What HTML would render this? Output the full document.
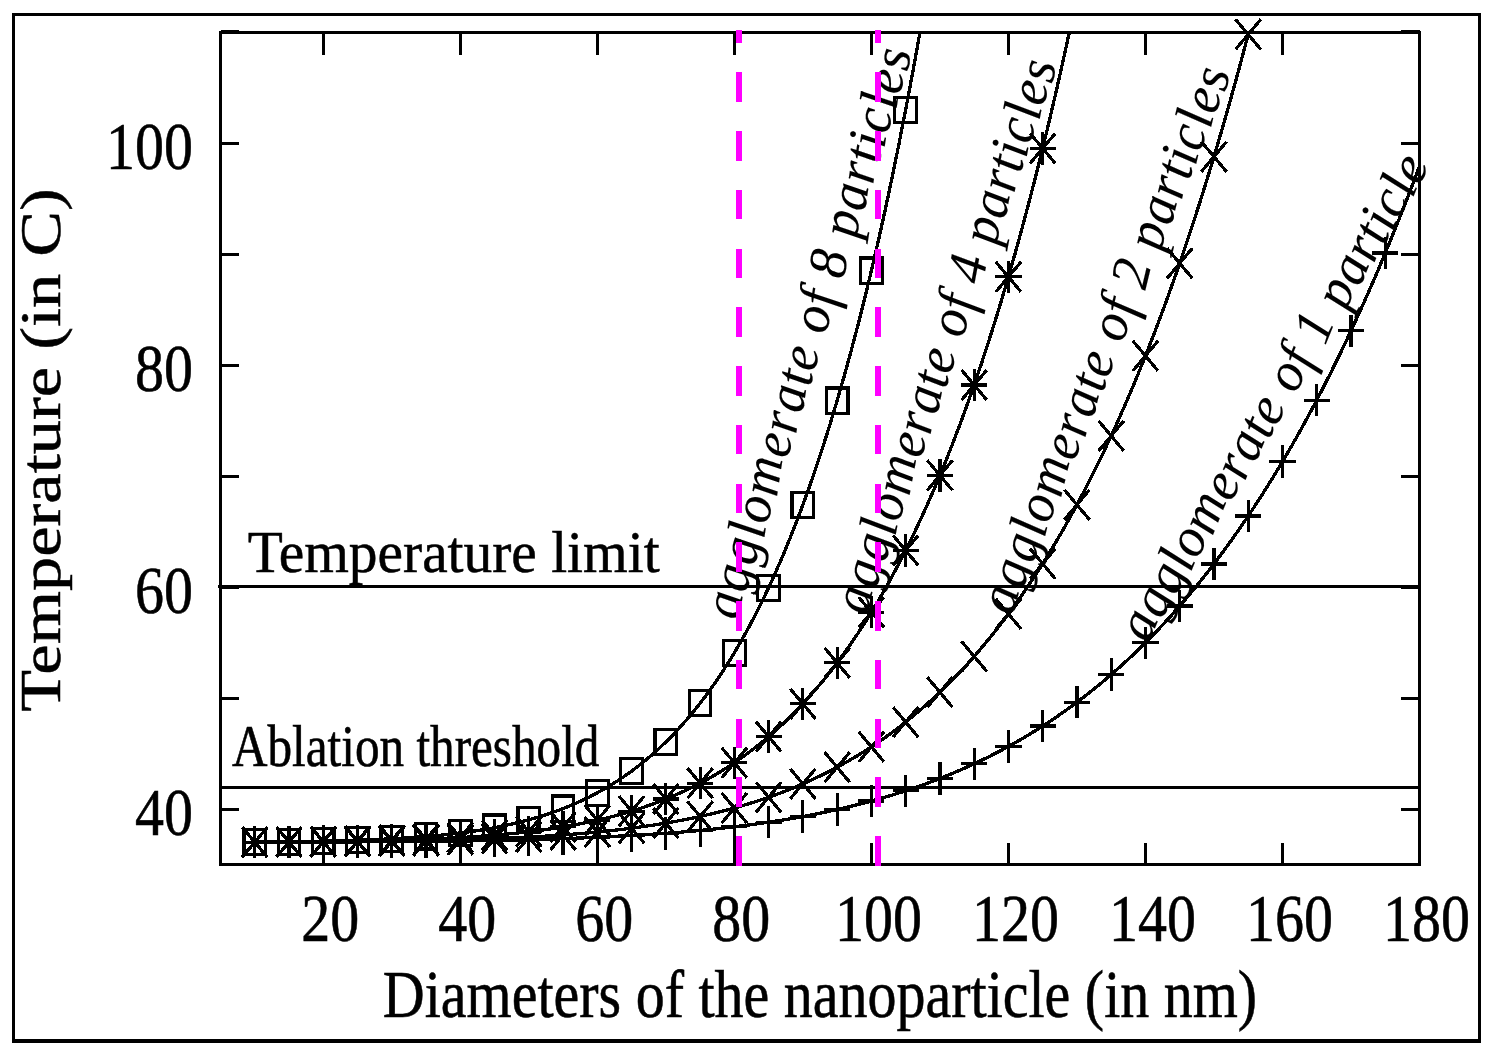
<!DOCTYPE html><html><head><meta charset="utf-8"><title>chart</title><style>html,body{margin:0;padding:0;background:#fff}svg{display:block}path{shape-rendering:crispEdges}text{font-family:"Liberation Serif",serif;fill:#000}</style></head><body>
<svg width="1493" height="1056" viewBox="0 0 1493 1056">
<rect width="1493" height="1056" fill="#fff"/>
<path d="M12 13H1481V1043H12Z M15 16V1039H1478V16Z" fill="#000" fill-rule="evenodd"/>
<defs><clipPath id="c"><rect x="220.5" y="32.5" width="1199.0" height="832.0"/></clipPath></defs>
<path d="M323.27 864.5 v-22 M323.27 32.5 v22 M460.30 864.5 v-22 M460.30 32.5 v22 M597.33 864.5 v-22 M597.33 32.5 v22 M734.36 864.5 v-22 M734.36 32.5 v22 M871.39 864.5 v-22 M871.39 32.5 v22 M1008.41 864.5 v-22 M1008.41 32.5 v22 M1145.44 864.5 v-22 M1145.44 32.5 v22 M1282.47 864.5 v-22 M1282.47 32.5 v22 M1419.50 864.5 v-22 M1419.50 32.5 v22 M220.5 809.50 h18.5 M1419.5 809.50 h-19 M220.5 698.42 h18.5 M1419.5 698.42 h-19 M220.5 587.34 h18.5 M1419.5 587.34 h-19 M220.5 476.26 h18.5 M1419.5 476.26 h-19 M220.5 365.18 h18.5 M1419.5 365.18 h-19 M220.5 254.10 h18.5 M1419.5 254.10 h-19 M220.5 143.02 h18.5 M1419.5 143.02 h-19 M220.5 31.94 h18.5 M1419.5 31.94 h-19" stroke="#000" stroke-width="3" fill="none"/>
<path d="M218 586.5 H1419.5 M220.5 787.5 H1419.5" stroke="#000" stroke-width="3" fill="none"/>
<path clip-path="url(#c)" d="M254.76 842.25 L261.61 842.23 L268.46 842.22 L275.31 842.20 L282.16 842.19 L289.01 842.17 L295.87 842.14 L302.72 842.12 L309.57 842.10 L316.42 842.07 L323.27 842.04 L330.12 842.02 L336.97 841.98 L343.83 841.95 L350.68 841.91 L357.53 841.88 L364.38 841.84 L371.23 841.79 L378.08 841.75 L384.93 841.70 L391.79 841.65 L398.64 841.60 L405.49 841.54 L412.34 841.48 L419.19 841.41 L426.04 841.34 L432.89 841.27 L439.75 841.19 L446.60 841.11 L453.45 841.02 L460.30 840.93 L467.15 840.83 L474.00 840.72 L480.85 840.61 L487.71 840.49 L494.56 840.37 L501.41 840.23 L508.26 840.09 L515.11 839.94 L521.96 839.78 L528.81 839.62 L535.67 839.44 L542.52 839.25 L549.37 839.05 L556.22 838.84 L563.07 838.61 L569.92 838.38 L576.77 838.13 L583.63 837.86 L590.48 837.58 L597.33 837.29 L604.18 836.98 L611.03 836.65 L617.88 836.30 L624.73 835.94 L631.59 835.55 L638.44 835.15 L645.29 834.72 L652.14 834.27 L658.99 833.80 L665.84 833.31 L672.69 832.78 L679.55 832.24 L686.40 831.66 L693.25 831.06 L700.10 830.43 L706.95 829.76 L713.80 829.07 L720.65 828.34 L727.51 827.58 L734.36 826.78 L741.21 825.95 L748.06 825.07 L754.91 824.16 L761.76 823.21 L768.61 822.21 L775.47 821.17 L782.32 820.08 L789.17 818.95 L796.02 817.77 L802.87 816.54 L809.72 815.25 L816.57 813.91 L823.43 812.52 L830.28 811.07 L837.13 809.56 L843.98 807.99 L850.83 806.36 L857.68 804.66 L864.53 802.89 L871.39 801.06 L878.24 799.16 L885.09 797.18 L891.94 795.13 L898.79 793.00 L905.64 790.79 L912.49 788.50 L919.35 786.12 L926.20 783.66 L933.05 781.11 L939.90 778.47 L946.75 775.73 L953.60 772.90 L960.45 769.97 L967.31 766.94 L974.16 763.80 L981.01 760.56 L987.86 757.20 L994.71 753.74 L1001.56 750.16 L1008.41 746.46 L1015.27 742.64 L1022.12 738.69 L1028.97 734.62 L1035.82 730.42 L1042.67 726.08 L1049.52 721.61 L1056.37 716.99 L1063.23 712.24 L1070.08 707.34 L1076.93 702.28 L1083.78 697.07 L1090.63 691.71 L1097.48 686.18 L1104.33 680.50 L1111.19 674.64 L1118.04 668.61 L1124.89 662.40 L1131.74 656.02 L1138.59 649.45 L1145.44 642.70 L1152.29 635.75 L1159.15 628.61 L1166.00 621.27 L1172.85 613.72 L1179.70 605.97 L1186.55 598.00 L1193.40 589.82 L1200.25 581.41 L1207.11 572.79 L1213.96 563.93 L1220.81 554.83 L1227.66 545.50 L1234.51 535.92 L1241.36 526.09 L1248.21 516.01 L1255.07 505.67 L1261.92 495.07 L1268.77 484.20 L1275.62 473.06 L1282.47 461.63 L1289.32 449.92 L1296.17 437.92 L1303.03 425.63 L1309.88 413.04 L1316.73 400.14 L1323.58 386.93 L1330.43 373.40 L1337.28 359.56 L1344.13 345.38 L1350.99 330.87 L1357.84 316.01 L1364.69 300.82 L1371.54 285.27 L1378.39 269.36 L1385.24 253.09 L1392.09 236.45 L1398.95 219.43 L1405.80 202.03 L1412.65 184.23 L1419.50 166.05" stroke="#000" stroke-width="3.3" fill="none"/>
<path d="M241.66 842.25 h26.2 M254.76 826.05 v32.4 M275.91 842.17 h26.2 M289.01 825.97 v32.4 M310.17 842.04 h26.2 M323.27 825.84 v32.4 M344.43 841.88 h26.2 M357.53 825.68 v32.4 M378.69 841.65 h26.2 M391.79 825.45 v32.4 M412.94 841.34 h26.2 M426.04 825.14 v32.4 M447.20 840.93 h26.2 M460.30 824.73 v32.4 M481.46 840.37 h26.2 M494.56 824.17 v32.4 M515.71 839.62 h26.2 M528.81 823.42 v32.4 M549.97 838.61 h26.2 M563.07 822.41 v32.4 M584.23 837.29 h26.2 M597.33 821.09 v32.4 M618.49 835.55 h26.2 M631.59 819.35 v32.4 M652.74 833.31 h26.2 M665.84 817.11 v32.4 M687.00 830.43 h26.2 M700.10 814.23 v32.4 M721.26 826.78 h26.2 M734.36 810.58 v32.4 M755.51 822.21 h26.2 M768.61 806.01 v32.4 M789.77 816.54 h26.2 M802.87 800.34 v32.4 M824.03 809.56 h26.2 M837.13 793.36 v32.4 M858.29 801.06 h26.2 M871.39 784.86 v32.4 M892.54 790.79 h26.2 M905.64 774.59 v32.4 M926.80 778.47 h26.2 M939.90 762.27 v32.4 M961.06 763.80 h26.2 M974.16 747.60 v32.4 M995.31 746.46 h26.2 M1008.41 730.26 v32.4 M1029.57 726.08 h26.2 M1042.67 709.88 v32.4 M1063.83 702.28 h26.2 M1076.93 686.08 v32.4 M1098.09 674.64 h26.2 M1111.19 658.44 v32.4 M1132.34 642.70 h26.2 M1145.44 626.50 v32.4 M1166.60 605.97 h26.2 M1179.70 589.77 v32.4 M1200.86 563.93 h26.2 M1213.96 547.73 v32.4 M1235.11 516.01 h26.2 M1248.21 499.81 v32.4 M1269.37 461.63 h26.2 M1282.47 445.43 v32.4 M1303.63 400.14 h26.2 M1316.73 383.94 v32.4 M1337.89 330.87 h26.2 M1350.99 314.67 v32.4 M1372.14 253.09 h26.2 M1385.24 236.89 v32.4" stroke="#000" stroke-width="3.2" fill="none"/>
<path clip-path="url(#c)" d="M254.76 842.21 L261.61 842.19 L268.46 842.16 L275.31 842.14 L282.16 842.11 L289.01 842.08 L295.87 842.04 L302.72 842.01 L309.57 841.97 L316.42 841.92 L323.27 841.88 L330.12 841.83 L336.97 841.78 L343.83 841.72 L350.68 841.66 L357.53 841.59 L364.38 841.52 L371.23 841.45 L378.08 841.37 L384.93 841.28 L391.79 841.19 L398.64 841.09 L405.49 840.98 L412.34 840.87 L419.19 840.75 L426.04 840.62 L432.89 840.48 L439.75 840.33 L446.60 840.17 L453.45 840.00 L460.30 839.81 L467.15 839.62 L474.00 839.41 L480.85 839.18 L487.71 838.94 L494.56 838.69 L501.41 838.41 L508.26 838.12 L515.11 837.81 L521.96 837.47 L528.81 837.12 L535.67 836.74 L542.52 836.34 L549.37 835.91 L556.22 835.45 L563.07 834.97 L569.92 834.45 L576.77 833.91 L583.63 833.33 L590.48 832.71 L597.33 832.06 L604.18 831.37 L611.03 830.64 L617.88 829.86 L624.73 829.04 L631.59 828.18 L638.44 827.26 L645.29 826.30 L652.14 825.28 L658.99 824.21 L665.84 823.07 L672.69 821.88 L679.55 820.63 L686.40 819.31 L693.25 817.92 L700.10 816.46 L706.95 814.92 L713.80 813.31 L720.65 811.62 L727.51 809.84 L734.36 807.98 L741.21 806.03 L748.06 803.98 L754.91 801.84 L761.76 799.60 L768.61 797.25 L775.47 794.80 L782.32 792.24 L789.17 789.56 L796.02 786.76 L802.87 783.84 L809.72 780.79 L816.57 777.61 L823.43 774.29 L830.28 770.83 L837.13 767.23 L843.98 763.47 L850.83 759.56 L857.68 755.49 L864.53 751.26 L871.39 746.85 L878.24 742.27 L885.09 737.51 L891.94 732.56 L898.79 727.42 L905.64 722.08 L912.49 716.54 L919.35 710.79 L926.20 704.82 L933.05 698.63 L939.90 692.21 L946.75 685.56 L953.60 678.66 L960.45 671.52 L967.31 664.12 L974.16 656.45 L981.01 648.52 L987.86 640.31 L994.71 631.82 L1001.56 623.03 L1008.41 613.95 L1015.27 604.55 L1022.12 594.84 L1028.97 584.81 L1035.82 574.44 L1042.67 563.73 L1049.52 552.67 L1056.37 541.26 L1063.23 529.47 L1070.08 517.31 L1076.93 504.76 L1083.78 491.82 L1090.63 478.47 L1097.48 464.71 L1104.33 450.52 L1111.19 435.89 L1118.04 420.82 L1124.89 405.29 L1131.74 389.29 L1138.59 372.82 L1145.44 355.85 L1152.29 338.39 L1159.15 320.41 L1166.00 301.91 L1172.85 282.87 L1179.70 263.28 L1186.55 243.13 L1193.40 222.41 L1200.25 201.11 L1207.11 179.20 L1213.96 156.68 L1220.81 133.53 L1227.66 109.75 L1234.51 85.31 L1241.36 60.21 L1248.21 34.42 L1255.07 7.93 L1261.92 -19.26 L1268.77 -47.18 L1275.62 -75.85 L1282.47 -105.27 L1289.32 -135.46 L1296.17 -166.45 L1303.03 -198.24" stroke="#000" stroke-width="3.3" fill="none"/>
<path d="M242.16 827.21 l25.2 30.0 M242.16 857.21 l25.2 -30.0 M276.41 827.08 l25.2 30.0 M276.41 857.08 l25.2 -30.0 M310.67 826.88 l25.2 30.0 M310.67 856.88 l25.2 -30.0 M344.93 826.59 l25.2 30.0 M344.93 856.59 l25.2 -30.0 M379.19 826.19 l25.2 30.0 M379.19 856.19 l25.2 -30.0 M413.44 825.62 l25.2 30.0 M413.44 855.62 l25.2 -30.0 M447.70 824.81 l25.2 30.0 M447.70 854.81 l25.2 -30.0 M481.96 823.69 l25.2 30.0 M481.96 853.69 l25.2 -30.0 M516.21 822.12 l25.2 30.0 M516.21 852.12 l25.2 -30.0 M550.47 819.97 l25.2 30.0 M550.47 849.97 l25.2 -30.0 M584.73 817.06 l25.2 30.0 M584.73 847.06 l25.2 -30.0 M618.99 813.18 l25.2 30.0 M618.99 843.18 l25.2 -30.0 M653.24 808.07 l25.2 30.0 M653.24 838.07 l25.2 -30.0 M687.50 801.46 l25.2 30.0 M687.50 831.46 l25.2 -30.0 M721.76 792.98 l25.2 30.0 M721.76 822.98 l25.2 -30.0 M756.01 782.25 l25.2 30.0 M756.01 812.25 l25.2 -30.0 M790.27 768.84 l25.2 30.0 M790.27 798.84 l25.2 -30.0 M824.53 752.23 l25.2 30.0 M824.53 782.23 l25.2 -30.0 M858.79 731.85 l25.2 30.0 M858.79 761.85 l25.2 -30.0 M893.04 707.08 l25.2 30.0 M893.04 737.08 l25.2 -30.0 M927.30 677.21 l25.2 30.0 M927.30 707.21 l25.2 -30.0 M961.56 641.45 l25.2 30.0 M961.56 671.45 l25.2 -30.0 M995.81 598.95 l25.2 30.0 M995.81 628.95 l25.2 -30.0 M1030.07 548.73 l25.2 30.0 M1030.07 578.73 l25.2 -30.0 M1064.33 489.76 l25.2 30.0 M1064.33 519.76 l25.2 -30.0 M1098.59 420.89 l25.2 30.0 M1098.59 450.89 l25.2 -30.0 M1132.84 340.85 l25.2 30.0 M1132.84 370.85 l25.2 -30.0 M1167.10 248.28 l25.2 30.0 M1167.10 278.28 l25.2 -30.0 M1201.36 141.68 l25.2 30.0 M1201.36 171.68 l25.2 -30.0 M1235.61 19.42 l25.2 30.0 M1235.61 49.42 l25.2 -30.0" stroke="#000" stroke-width="3.2" fill="none"/>
<path clip-path="url(#c)" d="M254.76 842.15 L261.61 842.11 L268.46 842.07 L275.31 842.03 L282.16 841.98 L289.01 841.93 L295.87 841.88 L302.72 841.82 L309.57 841.75 L316.42 841.68 L323.27 841.60 L330.12 841.51 L336.97 841.42 L343.83 841.32 L350.68 841.21 L357.53 841.10 L364.38 840.97 L371.23 840.83 L378.08 840.68 L384.93 840.52 L391.79 840.35 L398.64 840.16 L405.49 839.95 L412.34 839.73 L419.19 839.49 L426.04 839.23 L432.89 838.95 L439.75 838.65 L446.60 838.32 L453.45 837.96 L460.30 837.58 L467.15 837.17 L474.00 836.73 L480.85 836.25 L487.71 835.73 L494.56 835.18 L501.41 834.58 L508.26 833.94 L515.11 833.25 L521.96 832.52 L528.81 831.73 L535.67 830.88 L542.52 829.98 L549.37 829.01 L556.22 827.98 L563.07 826.88 L569.92 825.70 L576.77 824.45 L583.63 823.12 L590.48 821.70 L597.33 820.18 L604.18 818.58 L611.03 816.88 L617.88 815.07 L624.73 813.15 L631.59 811.12 L638.44 808.96 L645.29 806.69 L652.14 804.28 L658.99 801.73 L665.84 799.04 L672.69 796.20 L679.55 793.20 L686.40 790.04 L693.25 786.71 L700.10 783.21 L706.95 779.51 L713.80 775.63 L720.65 771.55 L727.51 767.26 L734.36 762.75 L741.21 758.02 L748.06 753.05 L754.91 747.84 L761.76 742.38 L768.61 736.66 L775.47 730.67 L782.32 724.40 L789.17 717.84 L796.02 710.97 L802.87 703.79 L809.72 696.29 L816.57 688.46 L823.43 680.28 L830.28 671.74 L837.13 662.82 L843.98 653.53 L850.83 643.84 L857.68 633.74 L864.53 623.22 L871.39 612.26 L878.24 600.85 L885.09 588.98 L891.94 576.62 L898.79 563.77 L905.64 550.41 L912.49 536.52 L919.35 522.09 L926.20 507.09 L933.05 491.53 L939.90 475.36 L946.75 458.58 L953.60 441.18 L960.45 423.12 L967.31 404.39 L974.16 384.98 L981.01 364.86 L987.86 344.01 L994.71 322.40 L1001.56 300.03 L1008.41 276.87 L1015.27 252.88 L1022.12 228.06 L1028.97 202.38 L1035.82 175.82 L1042.67 148.34 L1049.52 119.93 L1056.37 90.55 L1063.23 60.19 L1070.08 28.82 L1076.93 -3.59 L1083.78 -37.07 L1090.63 -71.65 L1097.48 -107.35 L1104.33 -144.20 L1111.19 -182.24 L1118.04 -221.50" stroke="#000" stroke-width="3.3" fill="none"/>
<path d="M241.66 842.15 h26.2 M254.76 825.95 v32.4 M242.16 827.15 l25.2 30.0 M242.16 857.15 l25.2 -30.0 M275.91 841.93 h26.2 M289.01 825.73 v32.4 M276.41 826.93 l25.2 30.0 M276.41 856.93 l25.2 -30.0 M310.17 841.60 h26.2 M323.27 825.40 v32.4 M310.67 826.60 l25.2 30.0 M310.67 856.60 l25.2 -30.0 M344.43 841.10 h26.2 M357.53 824.90 v32.4 M344.93 826.10 l25.2 30.0 M344.93 856.10 l25.2 -30.0 M378.69 840.35 h26.2 M391.79 824.15 v32.4 M379.19 825.35 l25.2 30.0 M379.19 855.35 l25.2 -30.0 M412.94 839.23 h26.2 M426.04 823.03 v32.4 M413.44 824.23 l25.2 30.0 M413.44 854.23 l25.2 -30.0 M447.20 837.58 h26.2 M460.30 821.38 v32.4 M447.70 822.58 l25.2 30.0 M447.70 852.58 l25.2 -30.0 M481.46 835.18 h26.2 M494.56 818.98 v32.4 M481.96 820.18 l25.2 30.0 M481.96 850.18 l25.2 -30.0 M515.71 831.73 h26.2 M528.81 815.53 v32.4 M516.21 816.73 l25.2 30.0 M516.21 846.73 l25.2 -30.0 M549.97 826.88 h26.2 M563.07 810.68 v32.4 M550.47 811.88 l25.2 30.0 M550.47 841.88 l25.2 -30.0 M584.23 820.18 h26.2 M597.33 803.98 v32.4 M584.73 805.18 l25.2 30.0 M584.73 835.18 l25.2 -30.0 M618.49 811.12 h26.2 M631.59 794.92 v32.4 M618.99 796.12 l25.2 30.0 M618.99 826.12 l25.2 -30.0 M652.74 799.04 h26.2 M665.84 782.84 v32.4 M653.24 784.04 l25.2 30.0 M653.24 814.04 l25.2 -30.0 M687.00 783.21 h26.2 M700.10 767.01 v32.4 M687.50 768.21 l25.2 30.0 M687.50 798.21 l25.2 -30.0 M721.26 762.75 h26.2 M734.36 746.55 v32.4 M721.76 747.75 l25.2 30.0 M721.76 777.75 l25.2 -30.0 M755.51 736.66 h26.2 M768.61 720.46 v32.4 M756.01 721.66 l25.2 30.0 M756.01 751.66 l25.2 -30.0 M789.77 703.79 h26.2 M802.87 687.59 v32.4 M790.27 688.79 l25.2 30.0 M790.27 718.79 l25.2 -30.0 M824.03 662.82 h26.2 M837.13 646.62 v32.4 M824.53 647.82 l25.2 30.0 M824.53 677.82 l25.2 -30.0 M858.29 612.26 h26.2 M871.39 596.06 v32.4 M858.79 597.26 l25.2 30.0 M858.79 627.26 l25.2 -30.0 M892.54 550.41 h26.2 M905.64 534.21 v32.4 M893.04 535.41 l25.2 30.0 M893.04 565.41 l25.2 -30.0 M926.80 475.36 h26.2 M939.90 459.16 v32.4 M927.30 460.36 l25.2 30.0 M927.30 490.36 l25.2 -30.0 M961.06 384.98 h26.2 M974.16 368.78 v32.4 M961.56 369.98 l25.2 30.0 M961.56 399.98 l25.2 -30.0 M995.31 276.87 h26.2 M1008.41 260.67 v32.4 M995.81 261.87 l25.2 30.0 M995.81 291.87 l25.2 -30.0 M1029.57 148.34 h26.2 M1042.67 132.14 v32.4 M1030.07 133.34 l25.2 30.0 M1030.07 163.34 l25.2 -30.0" stroke="#000" stroke-width="3.2" fill="none"/>
<path clip-path="url(#c)" d="M254.76 842.05 L261.61 841.99 L268.46 841.93 L275.31 841.86 L282.16 841.78 L289.01 841.70 L295.87 841.60 L302.72 841.50 L309.57 841.38 L316.42 841.26 L323.27 841.12 L330.12 840.97 L336.97 840.80 L343.83 840.62 L350.68 840.42 L357.53 840.21 L364.38 839.97 L371.23 839.70 L378.08 839.42 L384.93 839.10 L391.79 838.76 L398.64 838.38 L405.49 837.96 L412.34 837.51 L419.19 837.02 L426.04 836.48 L432.89 835.89 L439.75 835.24 L446.60 834.54 L453.45 833.78 L460.30 832.95 L467.15 832.05 L474.00 831.08 L480.85 830.02 L487.71 828.88 L494.56 827.64 L501.41 826.30 L508.26 824.85 L515.11 823.30 L521.96 821.62 L528.81 819.81 L535.67 817.87 L542.52 815.79 L549.37 813.55 L556.22 811.15 L563.07 808.58 L569.92 805.83 L576.77 802.89 L583.63 799.74 L590.48 796.39 L597.33 792.81 L604.18 789.00 L611.03 784.94 L617.88 780.62 L624.73 776.03 L631.59 771.15 L638.44 765.98 L645.29 760.48 L652.14 754.66 L658.99 748.49 L665.84 741.96 L672.69 735.05 L679.55 727.75 L686.40 720.03 L693.25 711.87 L700.10 703.27 L706.95 694.20 L713.80 684.63 L720.65 674.55 L727.51 663.93 L734.36 652.76 L741.21 641.01 L748.06 628.65 L754.91 615.67 L761.76 602.03 L768.61 587.71 L775.47 572.68 L782.32 556.92 L789.17 540.39 L796.02 523.06 L802.87 504.92 L809.72 485.91 L816.57 466.02 L823.43 445.20 L830.28 423.43 L837.13 400.67 L843.98 376.87 L850.83 352.01 L857.68 326.05 L864.53 298.94 L871.39 270.64 L878.24 241.12 L885.09 210.33 L891.94 178.22 L898.79 144.74 L905.64 109.86 L912.49 73.52 L919.35 35.68 L926.20 -3.73 L933.05 -44.75 L939.90 -87.44 L946.75 -131.84 L953.60 -178.03 L960.45 -226.06" stroke="#000" stroke-width="3.3" fill="none"/>
<path d="M243.96 829.45 h21.6 v25.2 h-21.6 z M278.21 829.10 h21.6 v25.2 h-21.6 z M312.47 828.52 h21.6 v25.2 h-21.6 z M346.73 827.61 h21.6 v25.2 h-21.6 z M380.99 826.16 h21.6 v25.2 h-21.6 z M415.24 823.88 h21.6 v25.2 h-21.6 z M449.50 820.35 h21.6 v25.2 h-21.6 z M483.76 815.04 h21.6 v25.2 h-21.6 z M518.01 807.21 h21.6 v25.2 h-21.6 z M552.27 795.98 h21.6 v25.2 h-21.6 z M586.53 780.21 h21.6 v25.2 h-21.6 z M620.79 758.55 h21.6 v25.2 h-21.6 z M655.04 729.36 h21.6 v25.2 h-21.6 z M689.30 690.67 h21.6 v25.2 h-21.6 z M723.56 640.16 h21.6 v25.2 h-21.6 z M757.81 575.11 h21.6 v25.2 h-21.6 z M792.07 492.32 h21.6 v25.2 h-21.6 z M826.33 388.07 h21.6 v25.2 h-21.6 z M860.59 258.04 h21.6 v25.2 h-21.6 z M894.84 97.26 h21.6 v25.2 h-21.6 z" stroke="#000" stroke-width="3.2" fill="none"/>
<rect x="220.5" y="32.5" width="1199.0" height="832.0" fill="none" stroke="#000" stroke-width="3"/>
<text transform="translate(330.27 941.00) scale(1 1.18) rotate(0)" font-size="58" text-anchor="middle" stroke="#000" stroke-width="0.5" >20</text>
<text transform="translate(467.30 941.00) scale(1 1.18) rotate(0)" font-size="58" text-anchor="middle" stroke="#000" stroke-width="0.5" >40</text>
<text transform="translate(604.33 941.00) scale(1 1.18) rotate(0)" font-size="58" text-anchor="middle" stroke="#000" stroke-width="0.5" >60</text>
<text transform="translate(741.36 941.00) scale(1 1.18) rotate(0)" font-size="58" text-anchor="middle" stroke="#000" stroke-width="0.5" >80</text>
<text transform="translate(878.39 941.00) scale(1 1.18) rotate(0)" font-size="58" text-anchor="middle" stroke="#000" stroke-width="0.5" >100</text>
<text transform="translate(1015.41 941.00) scale(1 1.18) rotate(0)" font-size="58" text-anchor="middle" stroke="#000" stroke-width="0.5" >120</text>
<text transform="translate(1152.44 941.00) scale(1 1.18) rotate(0)" font-size="58" text-anchor="middle" stroke="#000" stroke-width="0.5" >140</text>
<text transform="translate(1289.47 941.00) scale(1 1.18) rotate(0)" font-size="58" text-anchor="middle" stroke="#000" stroke-width="0.5" >160</text>
<text transform="translate(1426.50 941.00) scale(1 1.18) rotate(0)" font-size="58" text-anchor="middle" stroke="#000" stroke-width="0.5" >180</text>
<text transform="translate(193.00 835.03) scale(1 1.18) rotate(0)" font-size="58" text-anchor="end" stroke="#000" stroke-width="0.5" >40</text>
<text transform="translate(193.00 613.17) scale(1 1.18) rotate(0)" font-size="58" text-anchor="end" stroke="#000" stroke-width="0.5" >60</text>
<text transform="translate(193.00 391.30) scale(1 1.18) rotate(0)" font-size="58" text-anchor="end" stroke="#000" stroke-width="0.5" >80</text>
<text transform="translate(193.00 169.43) scale(1 1.18) rotate(0)" font-size="58" text-anchor="end" stroke="#000" stroke-width="0.5" >100</text>
<text transform="translate(820.00 1016.70) scale(1 1.18) rotate(0)" font-size="58" text-anchor="middle" stroke="#000" stroke-width="0.5" >Diameters of the nanoparticle (in nm)</text>
<text transform="translate(59.70 450.00) scale(1 1.18) rotate(-90)" font-size="58" text-anchor="middle" stroke="#000" stroke-width="0.5" >Temperature (in C)</text>
<text transform="translate(247.70 572.00) scale(1 1.024) rotate(0)" font-size="57.4" text-anchor="start" stroke="#000" stroke-width="0.5" >Temperature limit</text>
<text transform="translate(232.00 766.20) scale(1 1.195) rotate(0)" font-size="49.2" text-anchor="start" stroke="#000" stroke-width="0.5" >Ablation threshold</text>
<text x="738.99 747.29 755.59 763.88 768.49 776.79 788.77 796.13 802.59 810.89 815.50 822.86 827.01 835.31 839.91 844.06 852.36 856.51 864.80 873.10 879.56 884.17 888.78 896.14 900.75 908.11" y="620.44 593.52 566.61 539.69 524.73 497.81 458.93 435.03 414.08 387.16 372.21 348.31 334.85 307.93 292.98 279.52 252.60 239.14 212.22 185.30 164.35 149.39 134.43 110.54 95.58 71.68" rotate="-81.37" font-size="54.5" font-style="italic" stroke="#000" stroke-width="0.109">agglomerate of 8 particles</text>
<text x="868.06 877.10 886.14 895.19 900.21 909.25 922.31 930.34 937.38 946.42 951.44 959.47 963.99 973.03 978.06 982.58 991.62 996.14 1005.19 1014.23 1021.27 1026.29 1031.32 1039.34 1044.37 1052.39" y="615.50 589.42 563.35 537.27 522.79 496.71 459.05 435.91 415.61 389.54 375.05 351.90 338.87 312.79 298.30 285.27 259.19 246.16 220.08 194.01 173.71 159.23 144.74 121.59 107.10 83.96" rotate="-79.37" font-size="54.5" font-style="italic" stroke="#000" stroke-width="0.109">agglomerate of 4 particles</text>
<text x="1013.35 1023.76 1034.17 1044.57 1050.36 1060.77 1075.80 1085.04 1093.14 1103.55 1109.34 1118.58 1123.78 1134.19 1139.98 1145.18 1155.59 1160.79 1171.20 1181.61 1189.72 1195.50 1201.28 1210.52 1216.31 1225.55" y="615.68 590.02 564.36 538.70 524.44 498.78 461.72 438.94 418.97 393.31 379.05 356.28 343.45 317.78 303.53 290.70 265.04 252.21 226.55 200.89 180.91 166.66 152.40 129.62 115.36 92.58" rotate="-76.42" font-size="54.5" font-style="italic" stroke="#000" stroke-width="0.109">agglomerate of 2 particles</text>
<text x="1148.86 1162.78 1176.69 1190.61 1198.34 1212.26 1232.36 1244.71 1255.54 1269.46 1277.19 1289.54 1296.50 1310.42 1318.15 1325.11 1339.02 1345.98 1359.90 1373.81 1384.64 1392.38 1400.11 1412.46 1420.20" y="643.55 620.09 596.62 573.15 560.11 536.64 502.74 481.91 463.64 440.17 427.13 406.30 394.56 371.09 358.05 346.32 322.85 311.12 287.65 264.18 245.91 232.87 219.83 199.00 185.95" rotate="-67.83" font-size="54.5" font-style="italic" stroke="#000" stroke-width="0.109">agglomerate of 1 particle</text>
<path d="M739.1 865.5 V29.5" stroke="#ff00ff" stroke-width="6" stroke-dasharray="29.5 29.25" fill="none"/>
<path d="M878.2 865.5 V29.5" stroke="#ff00ff" stroke-width="6" stroke-dasharray="29.5 29.25" fill="none"/>
</svg></body></html>
